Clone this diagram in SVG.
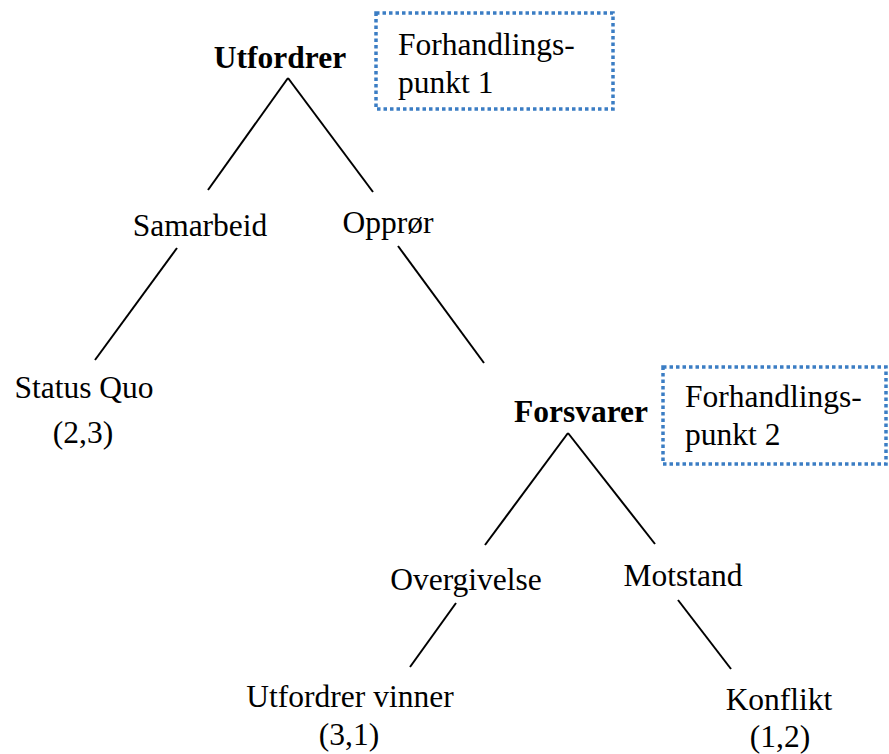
<svg xmlns="http://www.w3.org/2000/svg" width="889" height="754" viewBox="0 0 889 754">
<style>
text{font-family:"Liberation Serif","Times New Roman",serif;font-size:31.5px;fill:#000}
.b{font-weight:bold}
.m{text-anchor:middle}
.edge{stroke:#000;stroke-width:2;fill:none}
.box{fill:none;stroke:#3B7DC4;stroke-width:3.5;stroke-dasharray:3.5 3}
</style>
<rect width="889" height="754" fill="#fff"/>
<g id="connectors">
<line class="edge" x1="288" y1="78" x2="208" y2="190"/>
<line class="edge" x1="288" y1="78" x2="373" y2="192"/>
<line class="edge" x1="177" y1="248" x2="95" y2="360"/>
<line class="edge" x1="398" y1="246" x2="484" y2="363"/>
<line class="edge" x1="568" y1="433" x2="485" y2="545"/>
<line class="edge" x1="568" y1="433" x2="655" y2="544"/>
<line class="edge" x1="456" y1="603" x2="410" y2="667"/>
<line class="edge" x1="678" y1="600" x2="731" y2="669"/>
</g>
<g id="utfordrer"><text class="b m" x="280" y="68">Utfordrer</text></g>
<g id="forhandlingspunkt1">
<rect class="box" x="376" y="13" width="237" height="96"/>
<text x="398" y="55">Forhandlings-</text>
<text x="398" y="93">punkt 1</text>
</g>
<g id="samarbeid"><text class="m" x="200" y="236">Samarbeid</text></g>
<g id="oppror"><text class="m" x="388" y="233">Opprør</text></g>
<g id="statusquo">
<text class="m" x="84" y="398">Status Quo</text>
<text class="m" x="83" y="443">(2,3)</text>
</g>
<g id="forsvarer"><text class="b m" x="581" y="422">Forsvarer</text></g>
<g id="forhandlingspunkt2">
<rect class="box" x="663" y="367" width="223" height="97"/>
<text x="685" y="407">Forhandlings-</text>
<text x="685" y="445">punkt 2</text>
</g>
<g id="overgivelse"><text class="m" x="466" y="590">Overgivelse</text></g>
<g id="motstand"><text class="m" x="683" y="586">Motstand</text></g>
<g id="utfordrervinner">
<text class="m" x="350" y="707">Utfordrer vinner</text>
<text class="m" x="349" y="745">(3,1)</text>
</g>
<g id="konflikt">
<text class="m" x="779" y="710">Konflikt</text>
<text class="m" x="780" y="747">(1,2)</text>
</g>
</svg>
